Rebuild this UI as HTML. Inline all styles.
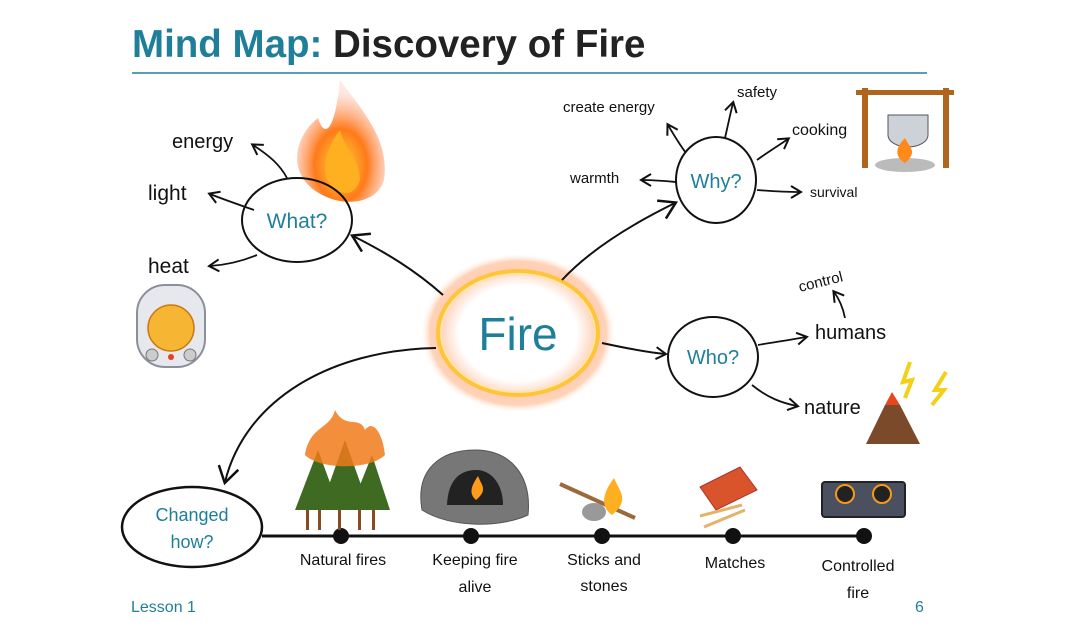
<!DOCTYPE html>
<html><head><meta charset="utf-8"><style>
html,body{margin:0;padding:0;background:#fff;}
svg{display:block}
text{font-family:"Liberation Sans","DejaVu Sans",sans-serif;}
</style></head><body>
<svg width="1080" height="628" viewBox="0 0 1080 628" xmlns="http://www.w3.org/2000/svg">
<defs>
<radialGradient id="glow" cx="50%" cy="50%" r="50%">
<stop offset="0.6" stop-color="#fff"/><stop offset="0.8" stop-color="#ffd0b8"/><stop offset="0.9" stop-color="#ffc09a" stop-opacity="0.7"/><stop offset="1" stop-color="#fff" stop-opacity="0"/>
</radialGradient>
<radialGradient id="flame" cx="50%" cy="70%" r="60%">
<stop offset="0" stop-color="#ffd23a"/><stop offset="0.5" stop-color="#ff7a1a"/><stop offset="1" stop-color="#ffb3a0" stop-opacity="0.3"/>
</radialGradient>
<marker id="ah" markerWidth="14" markerHeight="14" refX="10" refY="7" orient="auto" markerUnits="userSpaceOnUse">
<path d="M1,1 L11,7 L1,13" fill="none" stroke="#111" stroke-width="2"/>
</marker>
<marker id="ahb" markerWidth="22" markerHeight="22" refX="16" refY="11" orient="auto" markerUnits="userSpaceOnUse">
<path d="M1,1 L17,11 L1,21" fill="none" stroke="#111" stroke-width="2.5"/>
</marker>
</defs>

<text x="132" y="57" font-size="38.5" font-weight="bold" fill="#1f7f9a">Mind Map: <tspan fill="#222">Discovery of Fire</tspan></text>
<line x1="132" y1="73" x2="927" y2="73" stroke="#1f7f9a" stroke-width="1.5"/>

<!-- fire image above What -->
<path d="M335,200 C285,185 290,140 318,118 C325,140 335,130 340,80 C362,110 390,140 384,180 C378,200 355,205 335,200Z" fill="url(#flame)"/>
<path d="M335,190 C318,175 325,150 340,130 C345,150 360,160 360,180 C355,195 345,195 335,190Z" fill="#ffb020"/>

<!-- heater -->
<rect x="137" y="285" width="68" height="82" rx="28" fill="#e6e8ee" stroke="#8a8f99" stroke-width="2"/>
<circle cx="171" cy="328" r="23" fill="#f7b534" stroke="#c97b10" stroke-width="1.5"/>
<circle cx="152" cy="355" r="6" fill="#ccc" stroke="#777"/><circle cx="190" cy="355" r="6" fill="#ccc" stroke="#777"/>
<circle cx="171" cy="357" r="3" fill="#e4401e"/>

<!-- campfire -->
<rect x="862" y="88" width="6" height="80" fill="#b0651e"/><rect x="943" y="88" width="6" height="80" fill="#b0651e"/>
<rect x="856" y="90" width="98" height="5" fill="#b0651e"/>
<path d="M888,115 h40 v20 a20,12 0 0 1 -40,0Z" fill="#ccd2d8" stroke="#555"/>
<ellipse cx="905" cy="165" rx="30" ry="7" fill="#bbb"/>
<path d="M905,163 C892,155 898,145 905,138 C910,148 918,152 905,163Z" fill="#ff8a1a"/>

<!-- volcano + lightning -->
<path d="M866,444 L885,405 L900,405 L920,444Z" fill="#7a4a2a"/>
<path d="M885,405 L892,392 L900,405" fill="#e8461e"/>
<path d="M910,362 L903,382 L912,380 L905,398" stroke="#f4d01a" stroke-width="4" fill="none"/>
<path d="M946,372 L935,390 L944,390 L932,405" stroke="#f4d01a" stroke-width="4" fill="none"/>

<!-- Fire center -->
<ellipse cx="518" cy="333" rx="98" ry="80" fill="url(#glow)"/>
<ellipse cx="518" cy="333" rx="80" ry="62" fill="none" stroke="#ffc43a" stroke-width="4"/>
<ellipse cx="518" cy="333" rx="77" ry="59" fill="none" stroke="#ffe9a0" stroke-width="1.5"/>
<text x="518" y="350" font-size="46" fill="#1f7f9a" text-anchor="middle">Fire</text>

<!-- What -->
<ellipse cx="297" cy="220" rx="55" ry="42" fill="none" stroke="#111" stroke-width="2"/>
<text x="297" y="228" font-size="21" fill="#1f7f9a" text-anchor="middle">What?</text>
<path d="M287,178 C280,165 270,156 253,145" fill="none" stroke="#111" stroke-width="1.8" marker-end="url(#ah)"/>
<path d="M254,210 C240,205 225,200 210,194" fill="none" stroke="#111" stroke-width="1.8" marker-end="url(#ah)"/>
<path d="M257,255 C240,262 225,265 210,266" fill="none" stroke="#111" stroke-width="1.8" marker-end="url(#ah)"/>
<text x="172" y="148" font-size="20" fill="#111">energy</text>
<text x="148" y="200" font-size="21" fill="#111">light</text>
<text x="148" y="273" font-size="21" fill="#111">heat</text>
<path d="M443,295 C415,270 385,252 353,236" fill="none" stroke="#111" stroke-width="2" marker-end="url(#ahb)"/>

<!-- Why -->
<ellipse cx="716" cy="180" rx="40" ry="43" fill="none" stroke="#111" stroke-width="2"/>
<text x="716" y="188" font-size="20" fill="#1f7f9a" text-anchor="middle">Why?</text>
<path d="M562,280 C590,250 630,225 675,203" fill="none" stroke="#111" stroke-width="2" marker-end="url(#ahb)"/>
<path d="M686,153 C680,145 675,137 668,125" fill="none" stroke="#111" stroke-width="1.8" marker-end="url(#ah)"/>
<path d="M725,138 C728,125 730,115 733,103" fill="none" stroke="#111" stroke-width="1.8" marker-end="url(#ah)"/>
<path d="M757,160 C768,152 778,146 788,139" fill="none" stroke="#111" stroke-width="1.8" marker-end="url(#ah)"/>
<path d="M676,182 C665,181 655,180 642,180" fill="none" stroke="#111" stroke-width="1.8" marker-end="url(#ah)"/>
<path d="M757,190 C770,191 785,192 800,192" fill="none" stroke="#111" stroke-width="1.8" marker-end="url(#ah)"/>
<text x="563" y="112" font-size="15" fill="#111">create energy</text>
<text x="737" y="97" font-size="15" fill="#111">safety</text>
<text x="792" y="135" font-size="16" fill="#111">cooking</text>
<text x="570" y="183" font-size="15" fill="#111">warmth</text>
<text x="810" y="197" font-size="14" fill="#111">survival</text>

<!-- Who -->
<ellipse cx="713" cy="357" rx="45" ry="40" fill="none" stroke="#111" stroke-width="2"/>
<text x="713" y="364" font-size="20" fill="#1f7f9a" text-anchor="middle">Who?</text>
<path d="M602,343 C625,348 645,352 665,354" fill="none" stroke="#111" stroke-width="2" marker-end="url(#ah)"/>
<path d="M758,345 C775,342 790,340 806,337" fill="none" stroke="#111" stroke-width="1.8" marker-end="url(#ah)"/>
<path d="M752,385 C768,398 782,403 797,406" fill="none" stroke="#111" stroke-width="1.8" marker-end="url(#ah)"/>
<path d="M845,318 C843,308 840,300 834,292" fill="none" stroke="#111" stroke-width="1.8" marker-end="url(#ah)"/>
<text x="815" y="339" font-size="20" fill="#111">humans</text>
<text x="804" y="414" font-size="20" fill="#111">nature</text>
<text x="800" y="292" font-size="15" fill="#111" transform="rotate(-14 800 292)">control</text>

<!-- Changed how -->
<path d="M436,348 C330,350 245,400 225,482" fill="none" stroke="#111" stroke-width="2" marker-end="url(#ahb)"/>
<ellipse cx="192" cy="527" rx="70" ry="40" fill="none" stroke="#111" stroke-width="2.5"/>
<text x="192" y="521" font-size="18" fill="#1f7f9a" text-anchor="middle">Changed</text>
<text x="192" y="548" font-size="18" fill="#1f7f9a" text-anchor="middle">how?</text>

<!-- timeline -->
<line x1="262" y1="536" x2="866" y2="536" stroke="#111" stroke-width="3"/>
<g fill="#111"><circle cx="341" cy="536" r="8"/><circle cx="471" cy="536" r="8"/><circle cx="602" cy="536" r="8"/><circle cx="733" cy="536" r="8"/><circle cx="864" cy="536" r="8"/></g>

<!-- trees -->
<g>
<rect x="306" y="505" width="3" height="25" fill="#8a4a20"/><rect x="318" y="505" width="3" height="25" fill="#8a4a20"/><rect x="338" y="505" width="3" height="25" fill="#8a4a20"/><rect x="358" y="505" width="3" height="25" fill="#8a4a20"/><rect x="372" y="505" width="3" height="25" fill="#8a4a20"/>
<path d="M295,510 L318,450 L340,510Z M320,510 L345,440 L370,510Z M350,510 L372,455 L390,510Z" fill="#3f6a22"/>
<path d="M305,455 C310,425 330,430 335,410 C345,430 360,415 365,430 C372,420 382,430 385,455 C370,470 320,470 305,455Z" fill="#f07a1a" opacity="0.85"/>
</g>
<!-- cave -->
<path d="M422,510 C415,470 440,450 475,450 C510,450 532,475 528,515 C500,528 450,528 422,510Z" fill="#777" stroke="#555"/>
<path d="M447,505 C448,480 460,470 476,470 C492,470 503,485 503,505Z" fill="#222"/>
<path d="M476,500 C468,493 472,485 478,476 C482,486 488,490 476,500Z" fill="#ff9a1a"/>
<!-- sticks and stones -->
<line x1="560" y1="484" x2="635" y2="518" stroke="#9a6a3a" stroke-width="4"/>
<ellipse cx="594" cy="512" rx="12" ry="9" fill="#999"/>
<path d="M612,515 C598,505 605,490 614,478 C620,492 630,500 612,515Z" fill="#ffb020"/>
<!-- matches -->
<path d="M700,487 L740,467 L757,490 L716,510Z" fill="#d9542a" stroke="#a33"/>
<line x1="700" y1="516" x2="742" y2="505" stroke="#e3b36a" stroke-width="3"/>
<line x1="704" y1="527" x2="745" y2="510" stroke="#e3b36a" stroke-width="3"/>
<!-- stove -->
<rect x="822" y="482" width="83" height="35" rx="3" fill="#4a5060" stroke="#222" stroke-width="2"/>
<circle cx="845" cy="494" r="9" fill="#222" stroke="#f49a1a" stroke-width="2"/>
<circle cx="882" cy="494" r="9" fill="#222" stroke="#f49a1a" stroke-width="2"/>

<g font-size="16" fill="#111" text-anchor="middle">
<text x="343" y="565">Natural fires</text>
<text x="475" y="565">Keeping fire</text><text x="475" y="592">alive</text>
<text x="604" y="565">Sticks and</text><text x="604" y="591">stones</text>
<text x="735" y="568">Matches</text>
<text x="858" y="571">Controlled</text><text x="858" y="598">fire</text>
</g>
<text x="131" y="612" font-size="16" fill="#1f7f9a">Lesson 1</text>
<text x="915" y="612" font-size="16" fill="#1f7f9a">6</text>
</svg>
</body></html>
